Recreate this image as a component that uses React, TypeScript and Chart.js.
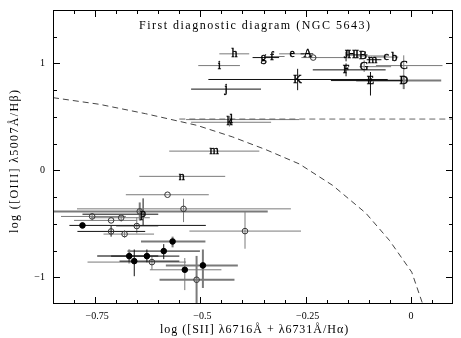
import { useEffect, useRef } from 'react';
import { Chart, registerables } from 'chart.js';

Chart.register(...registerables);

// ---- axis ticks ----
const xTickValues = [-0.75, -0.5, -0.25, 0];
const xTickText = ['−0.75', '−0.5', '−0.25', '0'];
const yTickValues = [-1, 0, 1];
const yTickText = ['−1', '0', '1'];

// ---- demarcation curve ----
const curveX = [-0.85, -0.74, -0.63, -0.508, -0.423, -0.344, -0.265, -0.186, -0.107, -0.051, 0.002, 0.028];
const curveY = [0.68, 0.618, 0.53, 0.421, 0.312, 0.193, 0.06, -0.14, -0.4, -0.655, -0.952, -1.25];
const limitX = [-0.55, 0.1];
const limitY = [0.48, 0.48];

// ---- lettered regions ----
const letterNames = ['h', 'i', 'g', 'f', 'e', 'A', 'J', 'H', 'I', 'B', 'm', 'c', 'b', 'C', 'D', 'E', 'F', 'G', 'K', 'j', 'k', 'l', 'm', 'n', 'p'];
const letterX = [-0.419, -0.455, -0.35, -0.33, -0.282, -0.245, -0.154, -0.141, -0.128, -0.114, -0.091, -0.059, -0.039, -0.017, -0.017, -0.096, -0.154, -0.111, -0.269, -0.439, -0.431, -0.426, -0.467, -0.544, -0.636];
const letterY = [1.09, 0.98, 1.055, 1.065, 1.09, 1.09, 1.08, 1.085, 1.085, 1.07, 1.035, 1.06, 1.055, 0.98, 0.84, 0.84, 0.94, 0.97, 0.85, 0.76, 0.45, 0.475, 0.18, -0.056, -0.41];
const letterXLo = [-0.455, -0.505, -0.376, -0.345, -0.313, -0.262, -0.154, null, null, -0.13, -0.105, -0.09, null, -0.083, -0.13, -0.19, -0.233, -0.122, -0.481, -0.522, -0.522, -0.534, -0.574, -0.645, -0.78];
const letterXHi = [-0.384, -0.406, -0.313, -0.3, -0.253, -0.232, -0.103, null, null, -0.056, -0.07, -0.03, null, 0.075, 0.072, -0.02, -0.06, -0.047, -0.055, -0.356, -0.332, -0.265, -0.36, -0.441, -0.6];
const letterYLo = [null, null, null, null, null, null, 1.02, null, null, null, null, null, null, 0.874, 0.76, 0.7, 0.88, 0.92, 0.75, null, 0.41, null, null, null, -0.515];
const letterYHi = [null, null, null, null, null, null, 1.11, null, null, null, null, null, null, 1.076, 0.89, 0.92, 1.0, 1.03, 0.95, null, 0.51, null, null, null, -0.262];
const letterDark = [0, 0, 1, 0, 0, 1, 1, 0, 0, 0, 1, 0, 0, 0, 0, 1, 1, 0, 1, 1, 0, 0, 0, 0, 1];
const letterWidth = [1, 1, 1, 1, 1, 1, 1, 1, 1, 1, 1, 1, 1, 1, 2, 1, 1, 1, 1, 1, 1, 1, 1, 1, 1];

// ---- open circles ----
const openX = [-0.232, -0.578, -0.54, -0.644, -0.757, -0.712, -0.688, -0.651, -0.712, -0.68, -0.394, -0.615, -0.509];
const openY = [1.055, -0.228, -0.36, -0.384, -0.431, -0.468, -0.443, -0.521, -0.571, -0.596, -0.568, -0.858, -1.023];
const openXLo = [-0.26, -0.677, -0.793, -0.85, -0.831, -0.8, -0.76, -0.7, -0.792, -0.73, -0.526, -0.768, -0.597];
const openXHi = [-0.154, -0.48, -0.285, -0.34, -0.677, -0.65, -0.62, -0.6, -0.631, -0.61, -0.261, -0.534, -0.419];
const openYLo = [null, null, -0.484, -0.47, -0.47, null, -0.48, -0.59, -0.62, -0.63, -0.733, -0.93, -1.25];
const openYHi = [null, null, -0.265, -0.3, -0.4, null, -0.41, -0.44, -0.52, -0.56, -0.39, -0.8, -0.8];
const openDark = [0, 0, 0, 0, 0, 0, 0, 0, 1, 0, 0, 0, 0];
const openWidth = [1, 1, 1, 2, 1, 1, 1, 1, 1, 1, 1, 1, 2];

// ---- filled circles ----
const fillX = [-0.78, -0.566, -0.587, -0.669, -0.627, -0.657, -0.537, -0.494];
const fillY = [-0.515, -0.665, -0.755, -0.802, -0.802, -0.849, -0.93, -0.889];
const fillXLo = [-0.811, -0.641, -0.673, -0.745, -0.712, -0.692, -0.62, -0.582];
const fillXHi = [-0.487, -0.488, -0.501, -0.6, -0.55, -0.55, -0.45, -0.411];
const fillYLo = [null, -0.72, -0.83, -0.87, -0.86, -0.99, -1.12, -1.1];
const fillYHi = [null, -0.62, -0.69, -0.74, -0.74, -0.74, -0.82, -0.74];
const fillDark = [1, 0, 1, 0, 1, 1, 0, 0];
const fillWidth = [1, 2, 1, 2, 1, 1, 1, 2];

const FONT = '"Liberation Serif", "DejaVu Serif", serif';

type Group = {
  x: number[]; y: number[];
  xlo: (number | null)[]; xhi: (number | null)[];
  ylo: (number | null)[]; yhi: (number | null)[];
  dark: number[]; width: number[];
};

const groups: Group[] = [
  { x: letterX, y: letterY, xlo: letterXLo, xhi: letterXHi, ylo: letterYLo, yhi: letterYHi, dark: letterDark, width: letterWidth },
  { x: openX, y: openY, xlo: openXLo, xhi: openXHi, ylo: openYLo, yhi: openYHi, dark: openDark, width: openWidth },
  { x: fillX, y: fillY, xlo: fillXLo, xhi: fillXHi, ylo: fillYLo, yhi: fillYHi, dark: fillDark, width: fillWidth },
];

function fitText(ctx: CanvasRenderingContext2D, text: string, cx: number, cy: number, width: number, font: string) {
  ctx.font = font;
  (ctx as any).letterSpacing = '0px';
  const w = ctx.measureText(text).width;
  const n = Math.max(1, text.length - 1);
  const ls = (width - w) / n;
  (ctx as any).letterSpacing = ls.toFixed(2) + 'px';
  ctx.textAlign = 'left';
  ctx.textBaseline = 'middle';
  ctx.fillText(text, cx - width / 2, cy);
  (ctx as any).letterSpacing = '0px';
}

const errorBarPlugin = {
  id: 'errorBars',
  beforeDatasetsDraw(chart: any) {
    const { ctx, chartArea, scales } = chart;
    const xs = scales.x, ys = scales.y;
    ctx.save();
    ctx.beginPath();
    ctx.rect(chartArea.left, chartArea.top, chartArea.right - chartArea.left, chartArea.bottom - chartArea.top);
    ctx.clip();
    for (const g of groups) {
      for (let i = 0; i < g.x.length; i++) {
        ctx.strokeStyle = g.dark[i] ? '#111' : '#7a7a7a';
        ctx.lineWidth = g.width[i];
        const py = ys.getPixelForValue(g.y[i]);
        const px = xs.getPixelForValue(g.x[i]);
        const xl = g.xlo[i], xh = g.xhi[i];
        if (xl !== null && xh !== null) {
          ctx.beginPath();
          ctx.moveTo(xs.getPixelForValue(xl), py);
          ctx.lineTo(xs.getPixelForValue(xh), py);
          ctx.stroke();
        }
        const yl = g.ylo[i], yh = g.yhi[i];
        if (yl !== null && yh !== null) {
          ctx.beginPath();
          ctx.moveTo(px, ys.getPixelForValue(yl));
          ctx.lineTo(px, ys.getPixelForValue(yh));
          ctx.stroke();
        }
      }
    }
    ctx.restore();
  },
  afterDatasetsDraw(chart: any) {
    const { ctx } = chart;
    const meta = chart.getDatasetMeta(2);
    ctx.save();
    ctx.fillStyle = '#000';
    ctx.strokeStyle = '#000';
    ctx.lineWidth = 0.4;
    ctx.font = '12px ' + FONT;
    ctx.textAlign = 'center';
    ctx.textBaseline = 'middle';
    meta.data.forEach((el: any, i: number) => {
      ctx.fillText(letterNames[i], el.x, el.y);
      ctx.strokeText(letterNames[i], el.x, el.y);
    });
    ctx.restore();
  },
  afterDraw(chart: any) {
    const { ctx, chartArea, scales } = chart;
    const xs = scales.x, ys = scales.y;
    const { left, right, top, bottom } = chartArea;
    ctx.save();
    ctx.strokeStyle = '#000';
    ctx.lineWidth = 1;
    ctx.strokeRect(left + 0.5, top + 0.5, right - left - 1, bottom - top - 1);
    // x ticks every 0.05, majors every 0.25
    ctx.beginPath();
    for (let k = -16; k <= 1; k++) {
      const v = k * 0.05;
      const px = Math.round(xs.getPixelForValue(v)) + 0.5;
      const len = k % 5 === 0 ? 7 : 4;
      ctx.moveTo(px, bottom);
      ctx.lineTo(px, bottom - len);
      ctx.moveTo(px, top);
      ctx.lineTo(px, top + len);
    }
    for (let k = -4; k <= 5; k++) {
      const v = k * 0.25;
      const py = Math.round(ys.getPixelForValue(v)) + 0.5;
      const len = k % 4 === 0 ? 7 : 4;
      ctx.moveTo(left, py);
      ctx.lineTo(left + len, py);
      ctx.moveTo(right, py);
      ctx.lineTo(right - len, py);
    }
    ctx.stroke();

    // tick labels
    ctx.fillStyle = '#000';
    ctx.font = '10px ' + FONT;
    ctx.textBaseline = 'middle';
    ctx.textAlign = 'center';
    xTickValues.forEach((v, i) => {
      const px = xs.getPixelForValue(v);
      const t = xTickText[i];
      const off = t.startsWith('−') ? 2 : 0;
      ctx.fillText(t, px + off, bottom + 12);
    });
    ctx.textAlign = 'right';
    yTickValues.forEach((v, i) => {
      ctx.fillText(yTickText[i], left - 8, ys.getPixelForValue(v));
    });

    // title and axis titles
    fitText(ctx, 'First diagnostic diagram (NGC 5643)', 254.5, 26, 231, '12px ' + FONT);
    fitText(ctx, 'log ([SII] λ6716Å + λ6731Å/Hα)', 254, 330, 188, '12px ' + FONT);
    ctx.save();
    ctx.translate(15, 161.5);
    ctx.rotate(-Math.PI / 2);
    fitText(ctx, 'log ([OIII] λ5007Å/Hβ)', 0, 0, 143, '12px ' + FONT);
    ctx.restore();
    ctx.restore();
  },
};

export default function App() {
  const ref = useRef<HTMLCanvasElement | null>(null);
  useEffect(() => {
    document.body.style.margin = '0';
    const canvas = ref.current;
    if (!canvas) return;
    const chart = new Chart(canvas, {
      type: 'scatter',
      data: {
        datasets: [
          {
            type: 'line',
            data: curveX.map((x, i) => ({ x, y: curveY[i] })),
            borderColor: '#444',
            borderWidth: 1,
            borderDash: [6, 4],
            pointRadius: 0,
            fill: false,
          },
          {
            type: 'line',
            data: limitX.map((x, i) => ({ x, y: limitY[i] })),
            borderColor: '#666',
            borderWidth: 1,
            borderDash: [6, 4],
            pointRadius: 0,
            fill: false,
          },
          {
            data: letterX.map((x, i) => ({ x, y: letterY[i] })),
            pointRadius: 0,
            pointHoverRadius: 0,
          },
          {
            data: openX.map((x, i) => ({ x, y: openY[i] })),
            pointStyle: 'circle',
            pointRadius: 2.8,
            borderColor: '#333',
            borderWidth: 1,
            backgroundColor: 'rgba(0,0,0,0)',
          },
          {
            data: fillX.map((x, i) => ({ x, y: fillY[i] })),
            pointStyle: 'circle',
            pointRadius: 2.8,
            borderColor: '#000',
            borderWidth: 1,
            backgroundColor: '#000',
          },
        ],
      },
      options: {
        animation: false,
        responsive: false,
        devicePixelRatio: 1,
        layout: { padding: { left: 0, right: 8, top: 10, bottom: 0 } },
        plugins: { legend: { display: false }, tooltip: { enabled: false }, title: { display: false } },
        scales: {
          x: {
            type: 'linear',
            min: -0.85,
            max: 0.1,
            grid: { display: false },
            border: { display: false },
            ticks: { display: false },
            afterFit: (s: any) => { s.height = 34; },
          },
          y: {
            type: 'linear',
            min: -1.25,
            max: 1.5,
            grid: { display: false },
            border: { display: false },
            ticks: { display: false },
            afterFit: (s: any) => { s.width = 53; },
          },
        },
      },
      plugins: [errorBarPlugin],
    } as any);
    return () => chart.destroy();
  }, []);
  return (
    <div style={{ width: 461, height: 338, background: '#fff' }}>
      <canvas ref={ref} width={461} height={338} />
    </div>
  );
}
